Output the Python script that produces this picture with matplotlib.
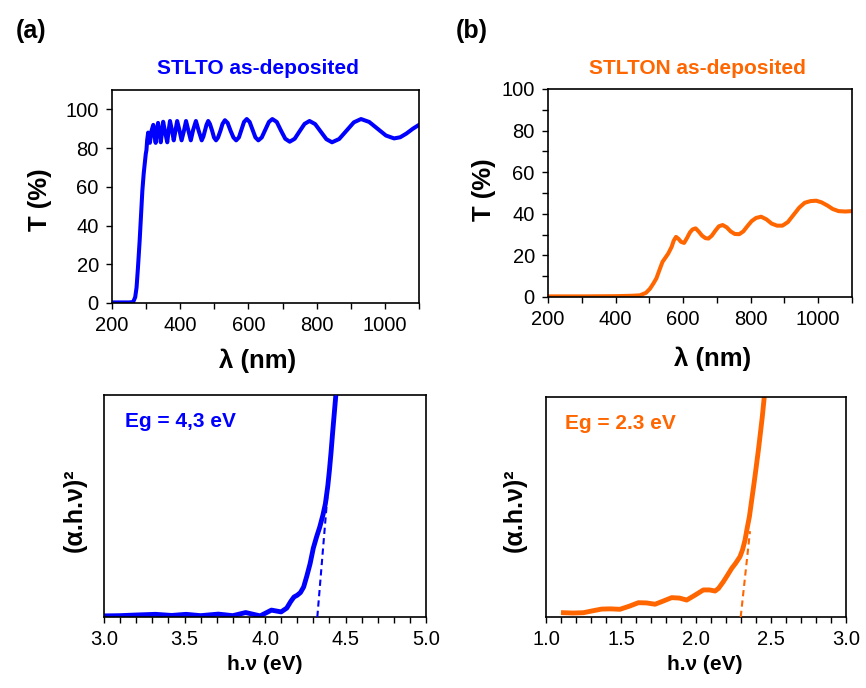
import matplotlib
matplotlib.use("Agg")
import matplotlib.pyplot as plt
from matplotlib.ticker import MultipleLocator

plt.rcParams['font.family'] = ['Liberation Sans', 'DejaVu Sans']

blue = '#0000FF'
orange = '#FF6600'

# (a) STLTO transmission
wl_a = [200, 250, 262, 268, 272, 276, 281, 285, 289, 293, 296, 299, 301, 303, 306,
        309, 311, 316, 321, 325, 328, 331, 335, 339, 343, 347, 350, 356, 362, 366,
        370, 376, 381, 386, 391, 398, 404, 411, 417, 424, 431, 438, 446, 454, 463,
        468, 472.5, 477, 482, 487, 493.5, 499, 505, 511, 518, 524, 531, 539, 547.5,
        556, 564, 572, 579.5, 587, 595, 603.5, 612, 620.5, 629, 639, 649.5, 660, 670,
        683, 695.5, 708, 721, 735.5, 750, 764.5, 779, 795.5, 812, 828.5, 845, 866,
        887.5, 909, 930, 954, 978.5, 1003, 1027, 1045, 1063, 1082, 1100]
T_a = [0.3, 0.3, 0.5, 3, 8, 18, 32, 45, 58, 67, 72, 77, 79, 84, 88,
       84, 82.7, 89, 92, 86, 82.7, 88, 93, 88, 83, 89, 93.6, 88, 83, 89,
       94, 89, 84, 89, 94, 89, 84, 89, 94, 89, 84, 89.5, 94, 89, 84,
       86, 89, 92, 94, 92.5, 89, 85.5, 84, 85.5, 89, 92.5, 94.4, 93, 89,
       85.5, 84, 85.5, 89.5, 93.5, 95, 93.5, 89.5, 85.5, 84, 85.5, 89.5, 93.5, 95,
       93.5, 89, 84.8, 83.3, 84.8, 88.7, 92.5, 94, 92.4, 88.5, 84.6, 83, 84.7,
       89, 93.3, 95, 93.5, 90, 86.5, 85, 85.6, 87.5, 90, 92]

# (b) STLTON transmission
wl_b = [200, 300, 400, 450, 472, 490, 502, 512, 521, 530, 539, 548, 556, 566, 572,
        579, 586, 594, 603, 612, 620, 628, 637, 646, 656, 666, 675, 685, 696, 706,
        717, 729, 741, 753, 766, 778, 790, 803, 816, 831, 847, 862, 878, 894, 910,
        927, 944, 960, 977, 994, 1010, 1027, 1043, 1060, 1080, 1100]
T_b = [0.3, 0.3, 0.4, 0.6, 0.8, 2, 4, 6.5, 9, 13, 16.9, 19, 20.9, 24.1, 27,
       28.9, 28, 26.5, 26, 28.5, 31, 32.5, 33, 31.5, 29.5, 28.3, 28.1, 29.5, 32, 34,
       34.6, 33.5, 31.5, 30.3, 30.2, 31.5, 34, 36.5, 38, 38.6, 37.3, 35.3, 34.3, 34.3, 36,
       39.5, 43, 45.3, 46.1, 46.3, 45.5, 44, 42.3, 41.3, 41.1, 41.3]

# Tauc plots (arbitrary units)
E_a = [3.0, 3.1, 3.2, 3.32, 3.42, 3.51, 3.6, 3.71, 3.8, 3.88, 3.97, 4.04, 4.1,
       4.135, 4.16, 4.18, 4.20, 4.22, 4.24, 4.26, 4.28, 4.30, 4.32, 4.34, 4.36,
       4.375, 4.39, 4.40, 4.41, 4.42, 4.43, 4.44, 4.45]
A_a = [0.5, 0.6, 0.9, 1.2, 0.7, 1.2, 0.6, 1.3, 0.6, 2.0, 0.5, 3.1, 2.3,
       4, 7, 9, 9.8, 11, 13.5, 18.5, 24, 31, 36, 40.5, 46,
       51, 59, 66, 74, 83, 91.5, 100, 108]
fit_a_E = [4.325, 4.44]
fit_a_A = [0, 100]

E_b = [1.116, 1.18, 1.249, 1.31, 1.371, 1.43, 1.493, 1.555, 1.616, 1.67, 1.727,
       1.78, 1.838, 1.89, 1.938, 1.995, 2.049, 2.09, 2.127, 2.15, 2.182, 2.21,
       2.238, 2.265, 2.293, 2.31, 2.327, 2.34, 2.356, 2.37, 2.387, 2.40, 2.416,
       2.43, 2.442, 2.455, 2.47]
A_b = [1.95, 1.8, 1.95, 2.8, 3.6, 3.7, 3.5, 4.9, 6.5, 6.4, 5.8,
       7.2, 8.8, 8.6, 7.7, 10, 12.3, 12.3, 11.8, 13, 16, 19,
       22.1, 24.5, 27.4, 30.5, 35, 40, 45.6, 52.5, 60.8, 67.5, 75.9,
       84, 91, 100, 108]
fit_b_E = [2.298, 2.36]
fit_b_A = [0, 39]

W, H = 866, 688
fig = plt.figure(figsize=(W / 100, H / 100), dpi=100)

def box(l, t, r, b):
    return [l / W, 1 - b / H, (r - l) / W, (b - t) / H]

ax1 = fig.add_axes(box(112, 90, 419, 303))
ax2 = fig.add_axes(box(548, 89, 852, 297))
ax3 = fig.add_axes(box(104, 395, 426, 617))
ax4 = fig.add_axes(box(546, 397, 846, 617))

tick_fs = 14.5

for ax in (ax1, ax2, ax3, ax4):
    for s in ax.spines.values():
        s.set_linewidth(1.2)
        s.set_color('black')
    ax.tick_params(which='both', direction='out', length=4.5, width=1,
                   labelsize=tick_fs, pad=5)

ax1.plot(wl_a, T_a, color=blue, lw=2.9, solid_joinstyle='round')
ax1.set_xlim(200, 1100)
ax1.set_ylim(0, 110)
ax1.xaxis.set_major_locator(MultipleLocator(200))
ax1.xaxis.set_minor_locator(MultipleLocator(100))
ax1.set_yticks([0, 20, 40, 60, 80, 100])

ax2.plot(wl_b, T_b, color=orange, lw=2.9, solid_joinstyle='round')
ax2.set_xlim(200, 1100)
ax2.set_ylim(0, 100)
ax2.xaxis.set_major_locator(MultipleLocator(200))
ax2.xaxis.set_minor_locator(MultipleLocator(100))
ax2.yaxis.set_major_locator(MultipleLocator(20))
ax2.yaxis.set_minor_locator(MultipleLocator(10))

ax3.plot(E_a, A_a, color=blue, lw=3.5, solid_joinstyle='round')
ax3.plot(fit_a_E, fit_a_A, color=blue, lw=1.5, ls=(0, (3, 2)), zorder=3)
ax3.set_xlim(3.0, 5.0)
ax3.set_ylim(0, 100)
ax3.xaxis.set_major_locator(MultipleLocator(0.5))
ax3.xaxis.set_minor_locator(MultipleLocator(0.1))
ax3.xaxis.set_major_formatter(plt.FormatStrFormatter('%.1f'))
ax3.set_yticks([])
ax3.text(0.066, 0.88, 'Eg = 4,3 eV', transform=ax3.transAxes, color=blue,
         fontsize=15, fontweight='bold', va='center')

ax4.plot(E_b, A_b, color=orange, lw=3.5, solid_joinstyle='round')
ax4.plot(fit_b_E, fit_b_A, color=orange, lw=1.5, ls=(0, (3, 2)), zorder=3)
ax4.set_xlim(1.0, 3.0)
ax4.set_ylim(0, 100)
ax4.xaxis.set_major_locator(MultipleLocator(0.5))
ax4.xaxis.set_minor_locator(MultipleLocator(0.1))
ax4.xaxis.set_major_formatter(plt.FormatStrFormatter('%.1f'))
ax4.set_yticks([])
ax4.text(0.063, 0.88, 'Eg = 2.3 eV', transform=ax4.transAxes, color=orange,
         fontsize=15, fontweight='bold', va='center')

def ftext(x, y, s, **kw):
    fig.text(x / W, 1 - y / H, s, ha='center', va='center', **kw)

ftext(31, 31, '(a)', fontsize=18, fontweight='bold')
ftext(472, 31, '(b)', fontsize=18, fontweight='bold')
ftext(258, 68, 'STLTO as-deposited', fontsize=15, fontweight='bold', color=blue)
ftext(697, 68, 'STLTON as-deposited', fontsize=15, fontweight='bold', color=orange)

ftext(258, 361, 'λ (nm)', fontsize=18.5, fontweight='bold')
ftext(713, 359, 'λ (nm)', fontsize=18.5, fontweight='bold')
ftext(40, 200, 'T (%)', fontsize=18.5, fontweight='bold', rotation=90)
ftext(484, 190, 'T (%)', fontsize=18.5, fontweight='bold', rotation=90)

ftext(265, 665, 'h.ν (eV)', fontsize=15, fontweight='bold')
ftext(705, 665, 'h.ν (eV)', fontsize=15, fontweight='bold')
ftext(75, 510, '(α.h.ν)²', fontsize=18, fontweight='bold', rotation=90)
ftext(515, 510, '(α.h.ν)²', fontsize=18, fontweight='bold', rotation=90)

fig.savefig('out.png', dpi=100)
